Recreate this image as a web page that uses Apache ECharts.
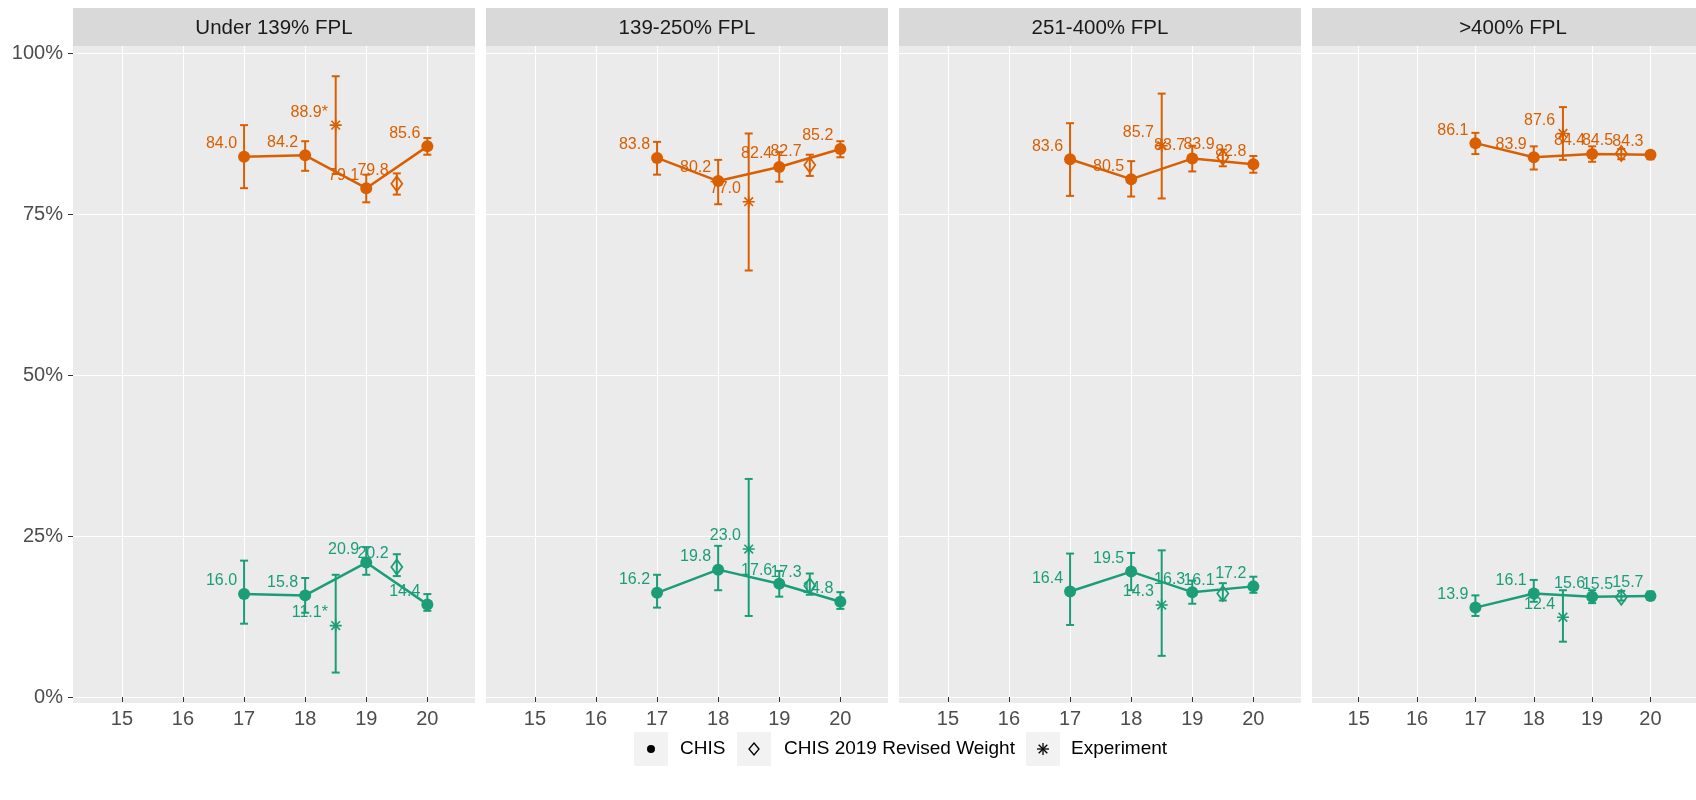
<!DOCTYPE html>
<html>
<head>
<meta charset="utf-8">
<script src="https://cdn.jsdelivr.net/npm/echarts@6/dist/echarts.min.js"></script>
<style>
html,body{margin:0;padding:0;background:#fff;}
#chart{width:1696px;height:800px;}
</style>
</head>
<body>
<div id="chart"></div>
<script>
// ---------------- data ----------------
const panelNames = ["Under 139% FPL", "139-250% FPL", "251-400% FPL", ">400% FPL"];
const chisYears = [17, 18, 19, 20];
const expYear = 18.5;
const revYear = 19.5;
const xTicks = [15, 16, 17, 18, 19, 20];
const yTicks = [0, 25, 50, 75, 100];
const expMark = ["*", "", "", ""];

// orange group
const orangeChis   = [[84.0, 84.2, 79.1, 85.6], [83.8, 80.2, 82.4, 85.2], [83.6, 80.5, 83.7, 82.8], [86.1, 83.9, 84.4, 84.3]];
const orangeChisLo = [[79.1, 81.8, 76.9, 84.3], [81.2, 76.6, 80.1, 83.9], [77.9, 77.8, 81.7, 81.5], [84.4, 82.0, 83.2, 83.6]];
const orangeChisHi = [[88.9, 86.4, 81.2, 86.9], [86.3, 83.5, 84.7, 86.4], [89.2, 83.3, 85.7, 84.1], [87.7, 85.6, 85.6, 84.8]];
const orangeRev    = [79.8, 82.7, 83.9, 84.5];
const orangeRevLo  = [78.1, 81.0, 82.5, 83.6];
const orangeRevHi  = [81.4, 84.3, 85.1, 85.2];
const orangeExp    = [88.9, 77.0, 85.7, 87.6];
const orangeExpLo  = [81.3, 66.3, 77.5, 83.5];
const orangeExpHi  = [96.5, 87.6, 93.8, 91.7];

// green group
const greenChis   = [[16.0, 15.8, 20.9, 14.4], [16.2, 19.8, 17.6, 14.8], [16.4, 19.5, 16.3, 17.2], [13.9, 16.1, 15.6, 15.7]];
const greenChisLo = [[11.4, 13.1, 19.0, 13.4], [13.9, 16.6, 15.6, 13.7], [11.2, 16.6, 14.5, 16.2], [12.6, 14.8, 14.6, 15.3]];
const greenChisHi = [[21.2, 18.5, 23.3, 16.0], [19.0, 23.5, 19.6, 16.3], [22.3, 22.4, 18.1, 18.7], [15.8, 18.2, 16.6, 16.4]];
const greenRev    = [20.2, 17.3, 16.1, 15.5];
const greenRevLo  = [18.8, 15.9, 15.0, 15.0];
const greenRevHi  = [22.2, 19.2, 17.7, 16.5];
const greenExp    = [11.1, 23.0, 14.3, 12.4];
const greenExpLo  = [3.8, 12.6, 6.4, 8.6];
const greenExpHi  = [19.0, 33.9, 22.8, 16.6];

const legendNames = ["CHIS", "CHIS 2019 Revised Weight", "Experiment"];

// ---------------- style / layout ----------------
const ORANGE = "#d95f02", GREEN = "#1b9e77";
const FONT = "Liberation Sans, Arial, sans-serif";
const PANEL_LEFT = 73, PANEL_STEP = 413, PANEL_W = 402, PANEL_TOP = 46, PANEL_H = 657;
const STRIP_TOP = 8, STRIP_H = 38;
const DIAMOND = "path://M0,-1L1,0L0,1L-1,0Z";
const ASTER = "path://M0,-1L0,1M-1,0L1,0M-0.72,-0.72L0.72,0.72M-0.72,0.72L0.72,-0.72";

const groups = [
  {col: ORANGE, chis: orangeChis, lo: orangeChisLo, hi: orangeChisHi, rev: orangeRev, revLo: orangeRevLo, revHi: orangeRevHi, exp: orangeExp, expLo: orangeExpLo, expHi: orangeExpHi},
  {col: GREEN, chis: greenChis, lo: greenChisLo, hi: greenChisHi, rev: greenRev, revLo: greenRevLo, revHi: greenRevHi, exp: greenExp, expLo: greenExpLo, expHi: greenExpHi}
];

const grids = [], xAxes = [], yAxes = [], series = [], graphics = [];

function labelCfg(col, dist) {
  return {show: true, position: "left", distance: dist, align: "right", verticalAlign: "bottom",
          offset: [0, -5], color: col, fontSize: 16, fontWeight: "normal", fontFamily: FONT,
          textBorderWidth: 0, textBorderColor: "transparent", opacity: 1};
}

function errorBarRender(col) {
  return function (params, api) {
    const x = api.value(0);
    const lo = api.coord([x, api.value(1)]);
    const hi = api.coord([x, api.value(2)]);
    const w = 4;
    const st = {stroke: col, lineWidth: 2};
    return {type: "group", children: [
      {type: "line", shape: {x1: lo[0], y1: lo[1], x2: hi[0], y2: hi[1]}, style: st},
      {type: "line", shape: {x1: lo[0] - w, y1: lo[1], x2: lo[0] + w, y2: lo[1]}, style: st},
      {type: "line", shape: {x1: hi[0] - w, y1: hi[1], x2: hi[0] + w, y2: hi[1]}, style: st}
    ]};
  };
}

panelNames.forEach(function (name, p) {
  const left = PANEL_LEFT + PANEL_STEP * p;
  grids.push({left: left, top: PANEL_TOP, width: PANEL_W, height: PANEL_H, show: true,
              backgroundColor: "#ebebeb", borderWidth: 0, containLabel: false});
  xAxes.push({type: "value", gridIndex: p, min: 14.2, max: 20.78,
    axisLine: {show: false},
    axisTick: {show: true, length: 5, lineStyle: {color: "#333333", width: 1}, customValues: xTicks},
    axisLabel: {show: true, customValues: xTicks, color: "#4d4d4d", fontSize: 20, fontFamily: FONT, margin: 6},
    splitLine: {show: true, lineStyle: {color: "#ffffff", width: 1}}
  });
  yAxes.push({type: "value", gridIndex: p, min: -0.93, max: 101.2,
    axisLine: {show: false},
    axisTick: {show: p === 0, length: 5, lineStyle: {color: "#333333", width: 1}, customValues: yTicks},
    axisLabel: {show: p === 0, customValues: yTicks, formatter: "{value}%", color: "#4d4d4d", fontSize: 20, fontFamily: FONT, margin: 10},
    splitLine: {show: true, lineStyle: {color: "#ffffff", width: 1}}
  });

  // strip
  graphics.push({type: "rect", shape: {x: left, y: STRIP_TOP, width: PANEL_W, height: STRIP_H}, style: {fill: "#d9d9d9"}, silent: true});
  graphics.push({type: "text", x: left + PANEL_W / 2, y: STRIP_TOP + STRIP_H / 2 + 1,
    style: {text: name, fill: "#1a1a1a", font: "20.5px " + FONT, align: "center", verticalAlign: "middle"}, silent: true});

  groups.forEach(function (g) {
    const errData = chisYears.map(function (yr, i) { return [yr, g.lo[p][i], g.hi[p][i]]; });
    errData.push([expYear, g.expLo[p], g.expHi[p]]);
    errData.push([revYear, g.revLo[p], g.revHi[p]]);
    series.push({type: "custom", xAxisIndex: p, yAxisIndex: p, data: errData,
      encode: {x: 0, y: [1, 2]}, renderItem: errorBarRender(g.col), silent: true, z: 2});
    series.push({type: "line", xAxisIndex: p, yAxisIndex: p,
      data: chisYears.map(function (yr, i) { return [yr, g.chis[p][i]]; }),
      symbol: "circle", symbolSize: 12, showAllSymbol: true,
      itemStyle: {color: g.col, opacity: 1}, lineStyle: {color: g.col, width: 2.5},
      label: Object.assign(labelCfg(g.col, 1), {formatter: function (d) { return d.value[1].toFixed(1); }}),
      silent: true, z: 3});
    series.push({type: "scatter", xAxisIndex: p, yAxisIndex: p,
      data: [[revYear, g.rev[p]]], symbol: DIAMOND, symbolSize: [11, 15],
      itemStyle: {color: "rgba(0,0,0,0)", borderColor: g.col, borderWidth: 1.8, opacity: 1},
      label: Object.assign(labelCfg(g.col, 2), {formatter: function (d) { return d.value[1].toFixed(1); }}),
      silent: true, z: 4});
    series.push({type: "scatter", xAxisIndex: p, yAxisIndex: p,
      data: [[expYear, g.exp[p]]], symbol: ASTER, symbolSize: 12,
      itemStyle: {color: "rgba(0,0,0,0)", borderColor: g.col, borderWidth: 1.6, opacity: 1},
      label: Object.assign(labelCfg(g.col, 1), {formatter: function (d) { return d.value[1].toFixed(1) + expMark[p]; }}),
      silent: true, z: 4});
  });
});

// legend (bottom)
const LEG_CY = 749, KEY = 34;
const legKeyX = [634, 737, 1026];
const legTextX = [680, 784, 1071];
legKeyX.forEach(function (kx, i) {
  graphics.push({type: "rect", shape: {x: kx, y: LEG_CY - KEY / 2, width: KEY, height: KEY}, style: {fill: "#f2f2f2"}, silent: true});
  graphics.push({type: "text", x: legTextX[i], y: LEG_CY,
    style: {text: legendNames[i], fill: "#000000", font: "19px " + FONT, align: "left", verticalAlign: "middle"}, silent: true});
});
const c0 = legKeyX[0] + KEY / 2, c1 = legKeyX[1] + KEY / 2, c2 = legKeyX[2] + KEY / 2;
graphics.push({type: "circle", shape: {cx: c0, cy: LEG_CY, r: 4}, style: {fill: "#000"}, silent: true});
graphics.push({type: "polygon", shape: {points: [[c1, LEG_CY - 6], [c1 + 5, LEG_CY], [c1, LEG_CY + 6], [c1 - 5, LEG_CY]]},
  style: {fill: "none", stroke: "#000", lineWidth: 1.3}, silent: true});
[[0, -6, 0, 6], [-6, 0, 6, 0], [-4.3, -4.3, 4.3, 4.3], [-4.3, 4.3, 4.3, -4.3]].forEach(function (s) {
  graphics.push({type: "line", shape: {x1: c2 + s[0], y1: LEG_CY + s[1], x2: c2 + s[2], y2: LEG_CY + s[3]},
    style: {stroke: "#000", lineWidth: 1.3}, silent: true});
});

const chart = echarts.init(document.getElementById("chart"), null, {renderer: "canvas"});
chart.setOption({
  animation: false,
  backgroundColor: "#ffffff",
  grid: grids, xAxis: xAxes, yAxis: yAxes, series: series,
  graphic: graphics
});
</script>
</body>
</html>
